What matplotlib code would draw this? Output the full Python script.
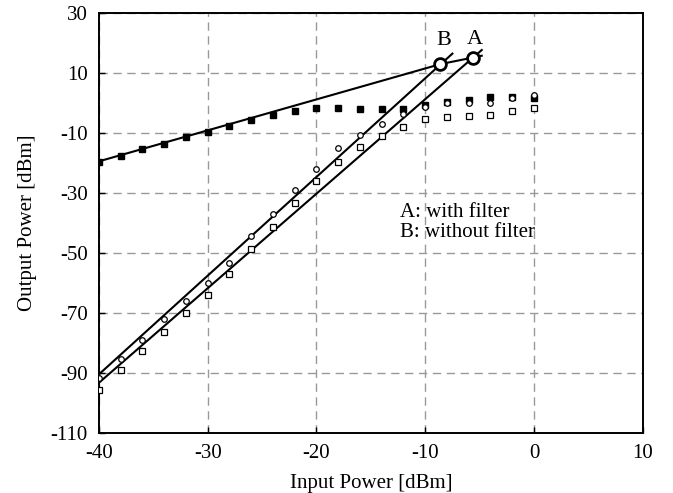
import matplotlib
matplotlib.use("Agg")
import matplotlib.pyplot as plt

# --------------------------
# data
# --------------------------
input_power = [-40, -38, -36, -34, -32, -30, -28, -26, -24, -22, -20,
               -18, -16, -14, -12, -10, -8, -6, -4, -2, 0]

# fundamental output (filled squares)
fund_out = [-19.6, -17.7, -15.3, -13.7, -11.5, -9.6, -7.7, -5.7, -3.9, -2.6, -1.6,
            -1.8, -2.1, -2.1, -1.9, -0.6, 0.3, 1.0, 2.0, 1.8, 1.6]
# third order output, without filter (open circles)
imd_b_out = [-91.7, -85.4, -79.1, -72.2, -66.1, -60.0, -53.4, -44.4, -37.1, -28.9, -22.2,
             -15.1, -10.8, -6.9, -3.8, -1.3, -0.2, 0.1, 0.1, 1.6, 2.7]
# third order output, with filter (open squares)
imd_a_out = [-95.8, -89.2, -82.8, -76.4, -70.0, -64.1, -57.2, -48.7, -41.5, -33.3, -26.2,
             -19.6, -14.7, -11.1, -8.1, -5.5, -4.6, -4.3, -3.9, -2.7, -1.8]

# fitted lines
fund_line_x = [-40, -8.6, -5.6, -4.8]
fund_line_y = [-19.5, 12.9, 15.1, 15.7]
imd_b_line_x = [-40, -7.5]
imd_b_line_y = [-90.5, 16.4]
imd_a_line_x = [-40, -4.8]
imd_a_line_y = [-93.3, 17.6]

# intercept points and their labels
ip_x = [-5.6, -8.6]
ip_y = [15.1, 12.9]
ip_labels = ["A", "B"]
ip_label_x = [-5.4, -8.3]
ip_label_y = [21.0, 20.7]

x_ticks = [-40, -30, -20, -10, 0, 10]
y_ticks = [30, 10, -10, -30, -50, -70, -90, -110]

# --------------------------
# plot
# --------------------------
plt.rcParams["font.family"] = ["Liberation Serif", "DejaVu Serif"]
plt.rcParams["font.size"] = 15
plt.rcParams["axes.unicode_minus"] = False

fig = plt.figure(figsize=(6.73, 4.93), dpi=100)
ax = fig.add_axes([0.147, 0.122, 0.808, 0.852])

ax.plot(fund_line_x, fund_line_y, color="black", lw=1.5, zorder=3)
ax.plot(imd_b_line_x, imd_b_line_y, color="black", lw=1.5, zorder=3)
ax.plot(imd_a_line_x, imd_a_line_y, color="black", lw=1.5, zorder=3)

ax.plot(input_power, fund_out, "s", color="black", ms=5.0, zorder=4)
ax.plot(input_power, imd_a_out, "s", mfc="white", mec="black", mew=0.9, ms=4.0, zorder=5)
ax.plot(input_power, imd_b_out, "o", mfc="white", mec="black", mew=0.9, ms=4.0, zorder=5)

ax.plot(ip_x, ip_y, "o", mfc="white", mec="black", mew=2, ms=8.5, zorder=6)
for xi, yi, lab in zip(ip_label_x, ip_label_y, ip_labels):
    ax.text(xi, yi, lab, ha="center", va="center", fontsize=16)

ax.text(-12.3, -36.4, "A: with filter", va="center")
ax.text(-12.3, -43.1, "B: without filter", va="center")

ax.set_xlim(-40, 10)
ax.set_ylim(-110, 30)
ax.set_xticks(x_ticks)
ax.set_yticks(y_ticks)
ax.tick_params(direction="in", length=4, width=1)
ax.tick_params(axis="x", pad=8)
ax.tick_params(axis="y", pad=8)
ax.grid(True, color="#999999", linestyle=(0, (6, 4)), lw=1)
for sp in ax.spines.values():
    sp.set_linewidth(1.4)

ax.set_xlabel("Input Power [dBm]", labelpad=8)
ax.set_ylabel("Output Power [dBm]", labelpad=10)

fig.savefig("out.png", dpi=100)
